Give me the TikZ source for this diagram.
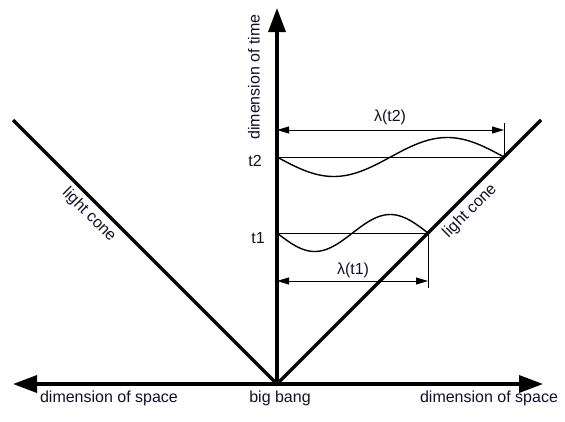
\documentclass[tikz,border=0pt]{standalone}
\usepackage{fontspec}
\setmainfont{Liberation Sans}
\usepackage{xcolor}
\usetikzlibrary{arrows.meta,positioning,calc}
\definecolor{ink}{HTML}{000000}
\definecolor{labelink}{HTML}{10102A}
\tikzset{
  axis/.style={-{Triangle[length=24pt,width=17pt]},draw=ink,line width=3.5pt},
  cone/.style={draw=ink,line width=3.5pt},
  thin/.style={draw=ink,line width=1pt},
  measure/.style={{Triangle[length=12pt,width=7pt]}-{Triangle[length=12pt,width=7pt]},draw=ink,line width=1pt},
  wave/.style={draw=ink,line width=1.4pt},
  labeltext/.style={font=\fontsize{16}{19}\selectfont,text=labelink,inner sep=0pt},
}

\begin{document}
\begin{tikzpicture}[x=1pt,y=-1pt]
  \useasboundingbox (0,0) rectangle (565,421);
  \coordinate (bb) at (277,384);
  \coordinate (xl) at (13,384);
  \coordinate (xr) at (543,384);
  \coordinate (ty) at (277,8);
  \coordinate (cl) at (13,120);
  \coordinate (cr) at (541,120);
  \coordinate (p2) at (277,157);
  \coordinate (q2) at (504,157);
  \coordinate (p1) at (277,233);
  \coordinate (q1) at (428,233);
  \coordinate (m2a) at (277,130);
  \coordinate (m2b) at (504,130);
  \coordinate (m2t) at (504,123);
  \coordinate (m1a) at (277,281);
  \coordinate (m1b) at (428,281);
  \coordinate (m1t) at (428,288);

  % axes and light cone
  \draw[cone] (cl) -- (bb) -- (cr);
  \draw[axis] (bb) -- (xl);
  \draw[axis] (bb) -- (xr);
  \draw[axis] (bb) -- (ty);

  % levels and wavelengths
  \draw[thin] (p2) -- (q2);
  \draw[thin] (p1) -- (q1);
  \draw[thin] (m2t) -- (q2);
  \draw[thin] (q1) -- (m1t);
  \draw[measure] (m2a) -- (m2b);
  \draw[measure] (m1a) -- (m1b);
  \draw[wave] plot[domain=0:1,samples=80] ({277+227*\x},{157+19.5*sin(360*\x)});
  \draw[wave] plot[domain=0:1,samples=60] ({277+151*\x},{233+18.5*sin(360*\x)});

  % labels
  \node[labeltext,rotate=90] (tl) at (254,77) {dimension of time};
  \node[labeltext] (t2) at (255,161) {t2};
  \node[labeltext] (t1) at (258,238) {t1};
  \node[labeltext] (l2) at (390,117) {λ(t2)};
  \node[labeltext] (l1) at (353,270) {λ(t1)};
  \node[labeltext,rotate=-45] (lcl) at (89,215) {light cone};
  \node[labeltext,rotate=45] (lcr) at (470,211) {light cone};
  \node[labeltext] (sl) at (109,398) {dimension of space};
  \node[labeltext] (bbl) at (280,398) {big bang};
  \node[labeltext] (sr) at (489,398) {dimension of space};
\end{tikzpicture}
\end{document}
